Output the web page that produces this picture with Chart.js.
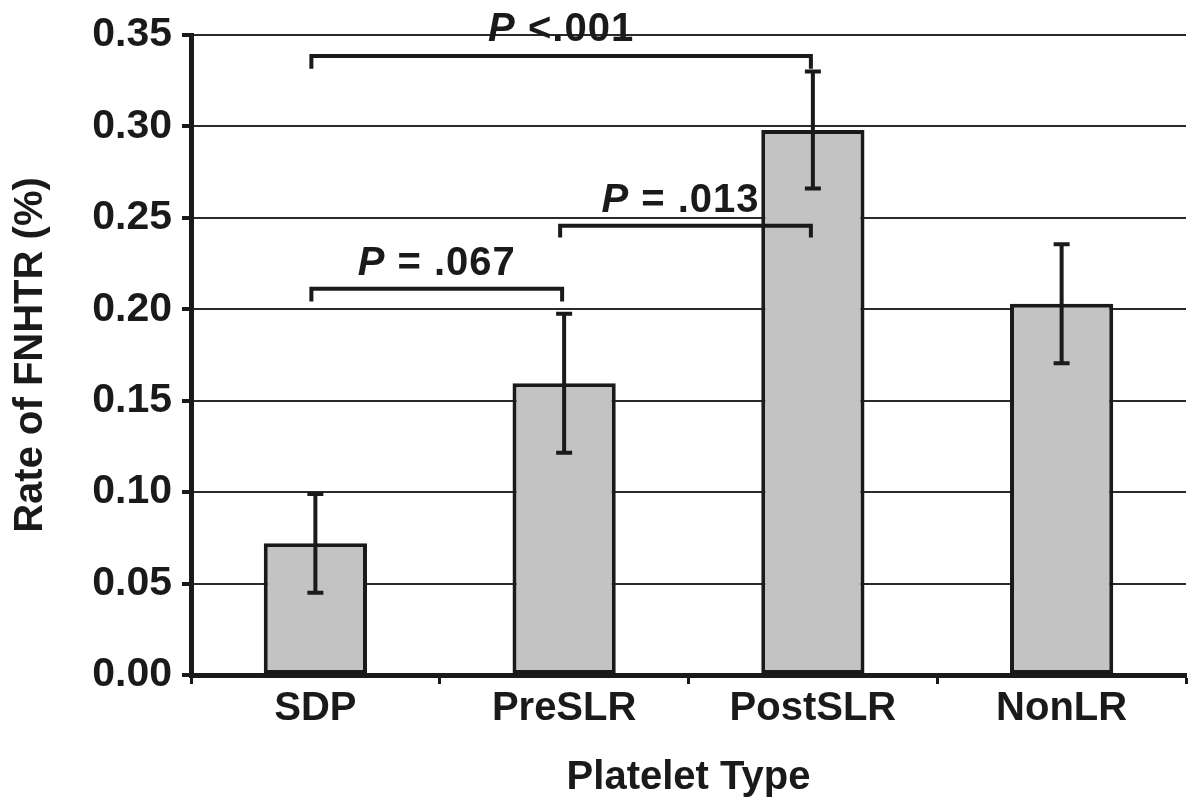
<!DOCTYPE html>
<html>
<head>
<meta charset="utf-8">
<script src="https://cdn.jsdelivr.net/npm/chart.js@4.4.1/dist/chart.umd.min.js"></script>
<style>
  html, body { margin: 0; padding: 0; background: #fff; }
  #wrap { width: 1189px; height: 804px; }
</style>
</head>
<body>
<div id="wrap"><canvas id="chart" width="1189" height="804"></canvas></div>
<script>
// values
const categories = ['SDP', 'PreSLR', 'PostSLR', 'NonLR'];
const rates = [0.072, 0.1595, 0.298, 0.203];
const errors = [0.027, 0.038, 0.032, 0.0325];
const yTicks = [0, 0.05, 0.10, 0.15, 0.20, 0.25, 0.30, 0.35];
const yTickLabels = ['0.00', '0.05', '0.10', '0.15', '0.20', '0.25', '0.30', '0.35'];

// significance brackets: from/to category index, bracket level, tick drop, text baseline
const bracketFrom = [0, 0, 1];
const bracketTo = [2, 1, 2];
const bracketLevel = [0.3385, 0.2112, 0.2457];
const bracketDrop = [0.0069, 0.0069, 0.0064];
const bracketTextLevel = [0.3465, 0.2187, 0.2534];
const bracketText = [' <.001', ' = .067', ' = .013'];

const FONT = '"Liberation Sans", Arial, Helvetica, sans-serif';
const INK = '#1a1a1a';

// error bars + p-value brackets drawn on top of the bars
const overlay = {
    id: 'overlay',
    afterDatasetsDraw(chart) {
        const { ctx, scales: { x, y } } = chart;
        ctx.save();
        ctx.strokeStyle = INK;
        ctx.lineWidth = 4;
        ctx.lineCap = 'butt';

        rates.forEach((v, i) => {
            const cx = x.getPixelForValue(i);
            const top = y.getPixelForValue(v + errors[i]);
            const bot = y.getPixelForValue(v - errors[i]);
            ctx.beginPath();
            ctx.moveTo(cx, top);
            ctx.lineTo(cx, bot);
            ctx.moveTo(cx - 8, top);
            ctx.lineTo(cx + 8, top);
            ctx.moveTo(cx - 8, bot);
            ctx.lineTo(cx + 8, bot);
            ctx.stroke();
        });

        bracketLevel.forEach((lvl, k) => {
            const x1 = x.getPixelForValue(bracketFrom[k]) - 4;
            const x2 = x.getPixelForValue(bracketTo[k]) - 2;
            const yl = y.getPixelForValue(lvl);
            const yd = y.getPixelForValue(lvl - bracketDrop[k]);
            ctx.beginPath();
            ctx.moveTo(x1, yd);
            ctx.lineTo(x1, yl);
            ctx.lineTo(x2, yl);
            ctx.lineTo(x2, yd);
            ctx.stroke();

            const pFont = 'italic bold 40px ' + FONT;
            const rFont = 'bold 40px ' + FONT;
            ctx.letterSpacing = '1px';
            ctx.font = pFont;
            const wP = ctx.measureText('P').width;
            ctx.font = rFont;
            const wR = ctx.measureText(bracketText[k]).width;
            let mid = (x1 + x2) / 2;
            if (k === 2) mid -= 5;
            const tx = mid - (wP + wR) / 2;
            const ty = y.getPixelForValue(bracketTextLevel[k]);
            ctx.fillStyle = INK;
            ctx.textBaseline = 'alphabetic';
            ctx.textAlign = 'left';
            ctx.font = pFont;
            ctx.fillText('P', tx, ty);
            ctx.font = rFont;
            ctx.fillText(bracketText[k], tx + wP, ty);
        });
        ctx.restore();
    }
};

new Chart(document.getElementById('chart'), {
    type: 'bar',
    data: {
        labels: categories,
        datasets: [{
            data: rates,
            backgroundColor: '#c3c3c3',
            borderColor: INK,
            borderWidth: 4,
            borderSkipped: false,
            categoryPercentage: 1,
            barPercentage: 0.415
        }]
    },
    options: {
        responsive: false,
        animation: false,
        devicePixelRatio: 1,
        layout: { padding: { top: 35, right: 3, left: 0, bottom: 0 } },
        plugins: {
            legend: { display: false },
            tooltip: { enabled: false }
        },
        scales: {
            x: {
                grid: {
                    offset: true,
                    drawOnChartArea: false,
                    drawTicks: true,
                    tickLength: 9,
                    tickWidth: 3,
                    tickColor: INK
                },
                border: { display: true, width: 5, color: INK },
                ticks: {
                    color: INK,
                    padding: 1,
                    font: { family: FONT, size: 40, weight: 'bold' }
                },
                title: {
                    display: true,
                    text: 'Platelet Type',
                    color: INK,
                    font: { family: FONT, size: 40, weight: 'bold' },
                    padding: { top: 0, bottom: 2 }
                },
                afterFit: s => { s.height = 129; }
            },
            y: {
                min: 0,
                max: 0.35,
                afterBuildTicks: s => { s.ticks = yTicks.map(v => ({ value: v })); },
                ticks: {
                    color: INK,
                    padding: 10,
                    font: { family: FONT, size: 41, weight: 'bold' },
                    callback: (v, i) => yTickLabels[i]
                },
                grid: {
                    color: '#2a2a2a',
                    lineWidth: 2,
                    drawTicks: true,
                    tickLength: 9,
                    tickWidth: 4,
                    tickColor: INK
                },
                border: { display: true, width: 5, color: INK },
                title: {
                    display: true,
                    text: 'Rate of FNHTR (%)',
                    color: INK,
                    font: { family: FONT, size: 40, weight: 'bold' },
                    padding: { top: 7, bottom: 0 }
                },
                afterFit: s => { s.width = 191; }
            }
        }
    },
    plugins: [overlay]
});
</script>
</body>
</html>
